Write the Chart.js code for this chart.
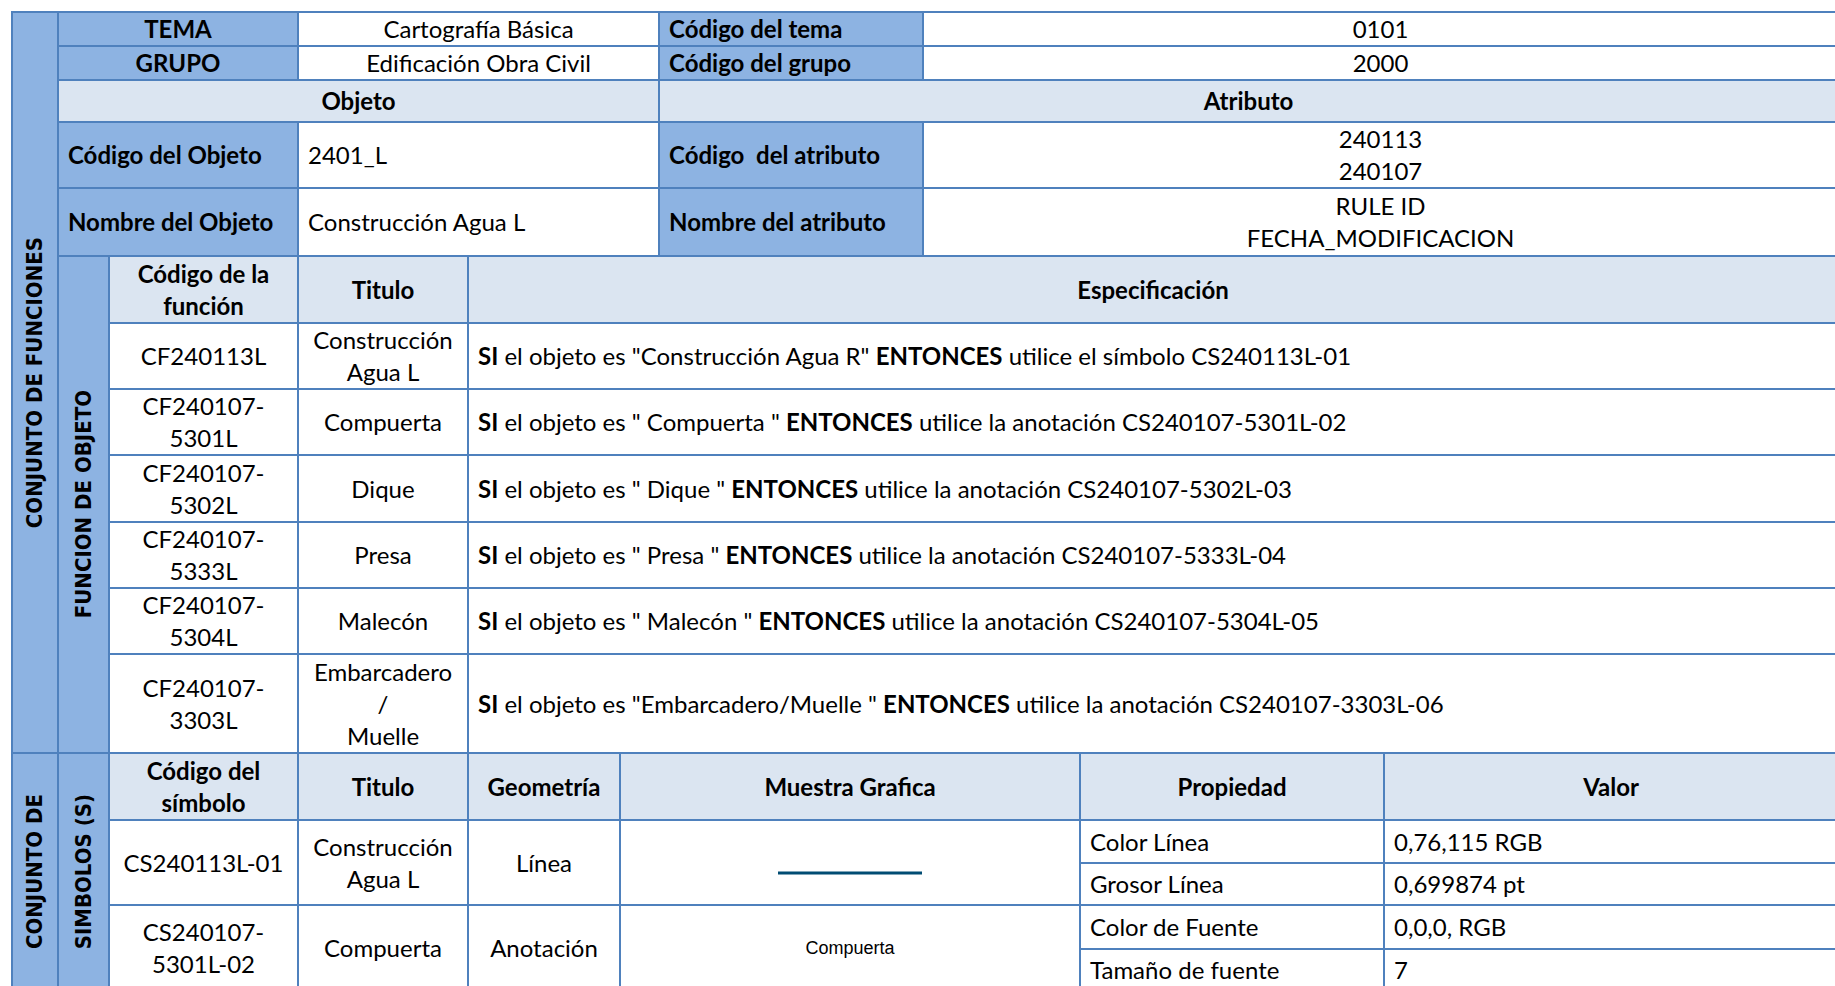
<!DOCTYPE html>
<html lang="es">
<head>
<meta charset="utf-8">
<title>Cartografía Básica - 2401_L</title>
<script src="https://cdn.jsdelivr.net/npm/chart.js"></script>
<style>
    html, body { margin: 0; padding: 0; background: #fff; overflow: hidden; width: 1835px; height: 986px; }
    #sheet {
        position: absolute; left: 11px; top: 11px;
        width: 1826px; border-collapse: collapse; table-layout: fixed;
        font-family: Lato, 'Noto Sans', sans-serif; font-size: 24px; line-height: 32px; color: #000;
    }
    #sheet td { border: 2px solid #4F81BD; padding: 0 9px; text-align: center; vertical-align: middle; overflow: hidden; }
    #sheet td.lab { background: #8DB3E2; font-weight: bold; }
    #sheet td.hd { background: #DBE5F1; font-weight: bold; }
    #sheet td.left { text-align: left; }
    #sheet td.strip { background: #8DB3E2; padding: 0; }
    .vtext {
        writing-mode: vertical-rl; transform: rotate(180deg); margin: 0 auto;
        font-family: 'DejaVu Sans Condensed', 'DejaVu Sans', sans-serif; font-stretch: condensed;
        font-weight: bold; font-size: 22px; line-height: 30px; white-space: nowrap;
    }
    .sample { display: flex; justify-content: center; align-items: center; }
    .annot { font-family: 'Liberation Sans Narrow', 'Liberation Sans', Arial, sans-serif; font-size: 18px; }
</style>
</head>
<body>
<table id="sheet">
    <colgroup id="cols"></colgroup>
    <tbody id="body"></tbody>
</table>
<script>
// ---- datos de la ficha ----
const tema = 'Cartografía Básica';
const temaCodigo = '0101';
const grupo = 'Edificación Obra Civil';
const grupoCodigo = '2000';
const objetoCodigo = '2401_L';
const objetoNombre = 'Construcción Agua L';
const atributoCodigos = ['240113', '240107'];
const atributoNombres = ['RULE ID', 'FECHA_MODIFICACION'];

const funcCodigos = ['CF240113L', 'CF240107-\n5301L', 'CF240107-\n5302L', 'CF240107-\n5333L', 'CF240107-\n5304L', 'CF240107-\n3303L'];
const funcTitulos = ['Construcción\nAgua L', 'Compuerta', 'Dique', 'Presa', 'Malecón', 'Embarcadero\n/\nMuelle'];
const funcObjetos = ['"Construcción Agua R"', '" Compuerta "', '" Dique "', '" Presa "', '" Malecón "', '"Embarcadero/Muelle "'];
const funcAcciones = ['el símbolo', 'la anotación', 'la anotación', 'la anotación', 'la anotación', 'la anotación'];
const funcSimbolos = ['CS240113L-01', 'CS240107-5301L-02', 'CS240107-5302L-03', 'CS240107-5333L-04', 'CS240107-5304L-05', 'CS240107-3303L-06'];

const simCodigos = ['CS240113L-01', 'CS240107-\n5301L-02'];
const simTitulos = ['Construcción\nAgua L', 'Compuerta'];
const simGeometrias = ['Línea', 'Anotación'];
const simPropiedades = [['Color Línea', 'Grosor Línea'], ['Color de Fuente', 'Tamaño de fuente']];
const simValores = [['0,76,115 RGB', '0,699874 pt'], ['0,0,0, RGB', '7']];

// muestra grafica de la linea (x, y)
const lineaX = [0, 1];
const lineaY = [0, 0];
const lineaColor = 'rgb(0,76,115)';

// ---- maquetacion ----
const colWidths = [46, 51, 189, 170, 152, 39, 264, 157, 304, 454];
const rowHeights = [33, 32, 42, 66, 68, 67, 66, 66, 67, 66, 66, 99, 67, 43, 42, 44, 42];

const br = s => s.replace(/\n/g, '<br>');
const td = (html, cls = '', span = {}) =>
    `<td class="${cls}"${span.c ? ` colspan="${span.c}"` : ''}${span.r ? ` rowspan="${span.r}"` : ''}>${html}</td>`;
const vt = s => `<div class="vtext">${s}</div>`;

document.getElementById('cols').innerHTML = colWidths.map(w => `<col style="width:${w}px">`).join('');

const rows = [];
rows.push(td(vt('CONJUNTO DE FUNCIONES'), 'strip', { r: 12 }) +
    td('TEMA', 'lab', { c: 2 }) + td(tema, '', { c: 3 }) +
    td('Código del tema', 'lab left') + td(temaCodigo, '', { c: 3 }));
rows.push(td('GRUPO', 'lab', { c: 2 }) + td(grupo, '', { c: 3 }) +
    td('Código del grupo', 'lab left') + td(grupoCodigo, '', { c: 3 }));
rows.push(td('Objeto', 'hd', { c: 5 }) + td('Atributo', 'hd', { c: 4 }));
rows.push(td('Código del Objeto', 'lab left', { c: 2 }) + td(objetoCodigo, 'left', { c: 3 }) +
    td('Código &nbsp;del atributo', 'lab left') + td(atributoCodigos.join('<br>'), '', { c: 3 }));
rows.push(td('Nombre del Objeto', 'lab left', { c: 2 }) + td(objetoNombre, 'left', { c: 3 }) +
    td('Nombre del atributo', 'lab left') + td(atributoNombres.join('<br>'), '', { c: 3 }));
rows.push(td(vt('FUNCION DE OBJETO'), 'strip', { r: funcCodigos.length + 1 }) +
    td('Código de la<br>función', 'hd') + td('Titulo', 'hd') + td('Especificación', 'hd', { c: 6 }));
funcCodigos.forEach((code, i) => {
    const spec = `<b>SI</b> el objeto es ${funcObjetos[i]} <b>ENTONCES</b> utilice ${funcAcciones[i]} ${funcSimbolos[i]}`;
    rows.push(td(br(code)) + td(br(funcTitulos[i])) + td(spec, 'left', { c: 6 }));
});
rows.push(td(vt('CONJUNTO DE'), 'strip', { r: 1 + simCodigos.length * 2 }) +
    td(vt('SIMBOLOS (S)'), 'strip', { r: 1 + simCodigos.length * 2 }) +
    td('Código del<br>símbolo', 'hd') + td('Titulo', 'hd') + td('Geometría', 'hd') +
    td('Muestra Grafica', 'hd', { c: 3 }) + td('Propiedad', 'hd') + td('Valor', 'hd'));
simCodigos.forEach((code, i) => {
    const muestra = simGeometrias[i] === 'Línea'
        ? `<div class="sample"><canvas id="muestra${i}" width="144" height="24" style="position:relative;top:10px"></canvas></div>`
        : `<div class="annot">${simTitulos[i]}</div>`;
    rows.push(td(br(code), '', { r: 2 }) + td(br(simTitulos[i]), '', { r: 2 }) + td(simGeometrias[i], '', { r: 2 }) +
        td(muestra, '', { c: 3, r: 2 }) + td(simPropiedades[i][0], 'left') + td(simValores[i][0], 'left'));
    rows.push(td(simPropiedades[i][1], 'left') + td(simValores[i][1], 'left'));
});

document.getElementById('body').innerHTML =
    rows.map((r, i) => `<tr style="height:${rowHeights[i]}px">${r}</tr>`).join('');

// linea de muestra dibujada con Chart.js
simGeometrias.forEach((g, i) => {
    if (g !== 'Línea') return;
    new Chart(document.getElementById('muestra' + i), {
        type: 'line',
        data: {
            datasets: [{
                data: lineaX.map((x, k) => ({ x: x, y: lineaY[k] })),
                borderColor: lineaColor,
                borderWidth: 3,
                borderCapStyle: 'butt',
                pointRadius: 0,
                tension: 0
            }]
        },
        options: {
            responsive: false,
            animation: false,
            devicePixelRatio: 1,
            layout: { padding: 0 },
            plugins: { legend: { display: false }, tooltip: { enabled: false } },
            scales: {
                x: { type: 'linear', display: false, min: 0, max: 1 },
                y: { display: false, min: -1, max: 1 }
            }
        }
    });
});
</script>
</body>
</html>
